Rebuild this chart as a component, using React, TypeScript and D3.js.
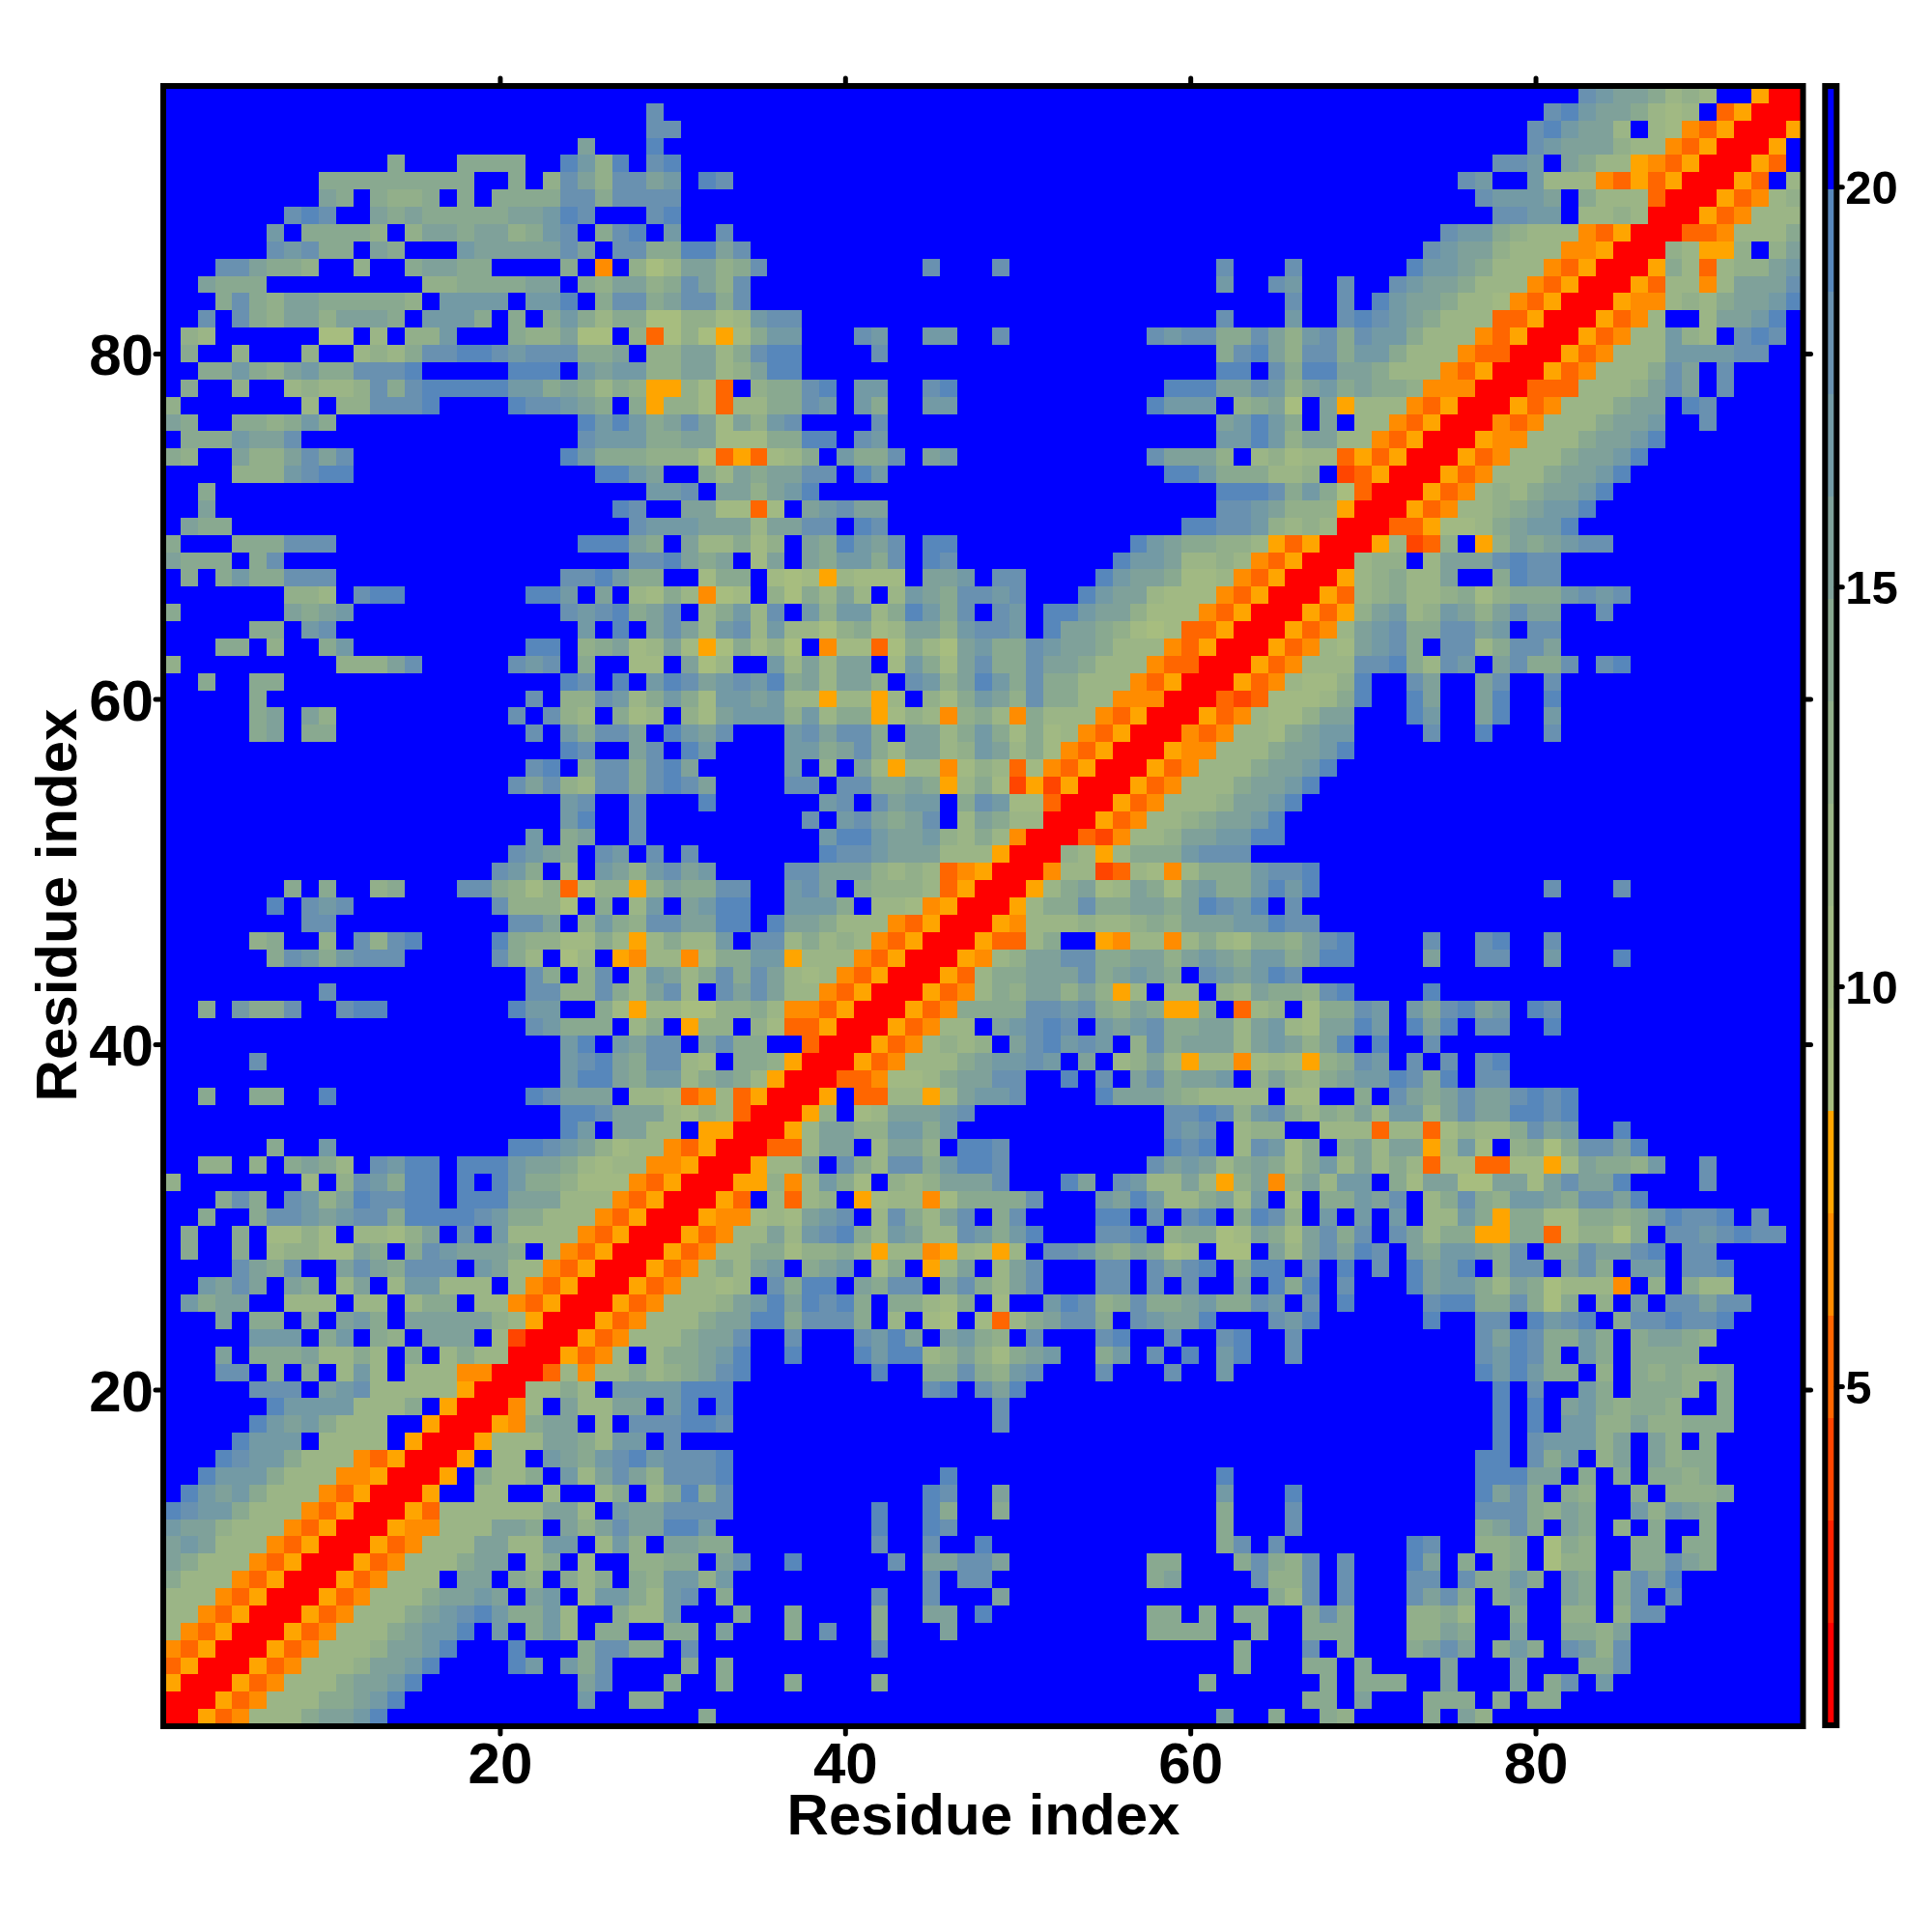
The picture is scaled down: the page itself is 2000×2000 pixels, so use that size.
import * as d3 from "d3"
import { useEffect, useRef } from "react"

// one entry per row of the map, top row first. "col:chars" runs, "." = beyond 20
const rowsTop = [
  "82:hgffecdc..vrr",
  "28:h 80:higffecbc.tvrrr",
  "28:hh 79:higffc.cbutvrrrv",
  "24:f 28:i 79:hgfffdccutvrrrv.",
  "13:e 17:eeee 23:igdi.hi 77:hhg.feccvutvrrrvt.",
  "9:eeeeeeeee..e.dhfdhhfg.ih 75:hg..gcccutvtvrrrvt.c",
  "9:fe.edde.e.eeeehhehhhh 76:hgggf.eccctrrrvtucd",
  "7:hih..fefeeeeeffgih...hi 77:hhgg.ccdcrrrvtuccc",
  "6:g.eeeed.dffeffdegh.ehi.g 32:h 74:hggedcccutvrrrttuccce",
  "6:hghee.fe...gfffffhf.hheeiifh 73:hgffdcccuuvrrrdcvvd.df",
  "3:hhfeed..d..effee....e.u.dacffdeh 44:h 48:h 61:h 65:h 72:iggfecccutvrrrvectcddfg",
  "2:feee 15:ddeeeeff.edffdehfdh 61:g 64:hg 68:h 71:hgffecccutvrrrvtccucfffh",
  "3:ehedffeeeeed.gggg.ggi.ehhefhheh 65:h 68:h 70:igffeccbutvrrrvuucdceffgi",
  "2:h.hedffdfffe.ggge.e.egeceeaaddbcghh 61:h 65:g 68:hihgfecccttvrrrvtuc..cffgi",
  "1:dc 9:aa.c.ddg...eddfaa.dtadavbegg 40:hg 44:gg 48:h 57:hghheehfdghehggecccutvrrrvtuccgdc.hih.",
  "1:e 4:d 8:d 11:cdcehhiihghhheef.ddffcehii 41:h 61:ehifdhheggecccuttrrrvtucccgggghh",
  "2:eegedfgeehhhi.....iii.gfggddffcdfii 61:ii.heiiffecccutvrrrvtucccehf.h",
  "1:e 4:d 7:cdccdhehiiiiiggefecedvvdbt.deehi 40:gg 44:hi 58:iiiffhgdfgefeeduuurrrtttcccdfhf.h",
  "0:d 8:c.ddhhhi....ihhgfe.evddbtcceehg 40:ge 44:gg 57:iggg.defa.fvcccutvrrrvtuccceff.ih",
  "0:fe 4:eedege 24:igigefhfbfdgh 41:h 61:fgige.f.ccutvrrrutuccceffg..h",
  "1:eeegffh 24:hgggeeffbbbeeii 40:hg 61:ggigdffccutvrrrvuuccceffgi",
  "0:ed 4:fddfhfh 23:igeeedddatvtbce.geeh.fg 57:hfffd.cdbcctvtvrrrvtuccceffgi",
  "4:dddghii 25:iigf..ecfeffhh.ig 58:iigeeeccd.stvrrrvtuccceffgi",
  "2:e 28:ggh.ffdfgi 61:iiihegeatrrrvtucdceffgi",
  "2:f 26:ih..ffbbtb.fghff 61:hhgfdddvrrrvtuccdefggi",
  "1:fee 27:hgggfffcffhh.ih 59:iihhgdcdcrrrttvbbcefggi",
  "0:e 4:eeehhh 24:iiife.fccebd.feigfh.ii 56:igfeeddcvtvrrrvcstd.vdfefghh",
  "0:feee.eh 27:hhifef.bf.feggeh.ih 55:iggfccdcutvrrrcdd.cfffhihh",
  "1:e 3:egeehhh 23:hhigee..bee.babvcbbb.ffg.hh 54:igffebbcutvrrrvcdeccf..eihh",
  "7:ddc.hii 21:iig.f.cbecuab.daecfc.cgfehhgh 53:igffcbbbutvrrrvtcdeccdebdeeeghgh",
  "0:e 7:fefg 23:hghiefh.cegch.gdggceigeh.hg 51:iigffdbbbutvrrrvtvdfgcdgfdfhff..h",
  "5:ee.gh 24:g.i.fhfcghcgccadebcffdghhg.iffedbabttvrrrvtucfgheehhfg.hh",
]

const rowsMiddle = [
  "3:ee 6:d 9:eg 21:ii 24:defbcfbvaebda.ubbtaecafgeehgffecccutvrrrvtucbfghe.hhcehhf",
  "0:d 10:dddfh 20:hgh.e..bb.fac..gcfcff.bgebfheehffecccuttrrrvtuccchhiechg.fheeh.hi",
  "2:e 5:ee 23:ih.i.gihfghgiefcffd.hgdfigeheecccutvrrrvtucbbdi..hf..fh..h",
  "5:e 21:h 23:ddhgcegebggfgccvccvc.dbegfdheeccuuurrrtstbbbcei 72:if 76:fi 80:i",
  "5:ef 8:fd 20:h.hdc.ebc.dbfgggdgceevbdcudecuecccutvrrrvtucbbdff 72:ig 76:fi 80:g",
  "5:ef 8:ee 21:h 23:gehhf.igfh...ghfhhe.ffcegebebcutvrrrutuccbefgg 73:h 76:i 80:h",
  "23:ih..fh.ig....ggefhecffcdgfcebutvrrrvuuccceffgi",
  "21:hi.ehhehif.....g.d.fcvccubdctbutvrrrvtuccceffgi",
  "20:hfhdchhehihf....hh.hheefevcebsvsvrrrvtuccceffgi",
  "23:gh 27:h 31:i 38:gh.hfgg.ehgbbtrrrvtucccdffgi",
  "23:gi 27:h 37:h.ghfefh.cfeccrrrvtuccdeffgi",
  "21:g 23:ef 27:h 38:giigffgdcecurrrtsuccdffggii",
  "20:hgfe.hg.h.h 38:ihhgfffcccvrrrdcvceeeghhh",
  "19:hge.c.gfdghfg 36:hhfffdcdctuvrrruccstcbuceeeghhi",
  "7:e 9:e 12:de 17:hhedbdtaddvdfeehh..ghf.edddctvrrrvcefbcfebfgeegigi 80:h 84:h",
  "6:i 8:hgh 19:hddda.e.cg.fgii..ggge.ccbuvrrrvceeheeffefihgi.h",
  "8:hh 20:hhf.dgedhhffii.iffecccutvrrrvucccdccdedfffggihh",
  "5:de 9:d 11:hdhi 19:ieddbbecvceccg.hhcecdcutvrrrvttce..vuccucecbeedfhi 73:h 76:hi 80:h",
  "6:ehgeghhh 19:hec.ac.vuccubeeggvcccutvrrrvucdffhheeffdfgfeggefii 73:f 76:hh 80:g 84:i",
  "21:he.dh.cgfcehehfcbcutvrrrvtceefffhefgfe.hgfgih",
  "9:h 21:hhddhecfhc.hfhfccutvrrrvtucedffdfdvc.cc.dcfeedhi 73:i",
  "2:e 4:geeh 10:hii 20:igg..ebvccaaddecuutvrrrvtueeeehhghedfevve.tcd.beehg.gehifg.ih",
  "21:hgeee.ce.vdd.dbttvrrrvtucc.fghih.gfgheeffcfgcbffig.ifi.hh..i",
  "23:gi.gfhh.fhee..trrrvtucdcd.fhighg.dhefffcfgfdfi.i 73:h",
  "5:h 23:ghifehhcb.eedvrrrvtucccefgghg.f.cdfcvccubcbvdehg.h.h.hi",
  "23:giifeggcefecvrrrttubbceffhh..i.h.fheffg.dfdcefggihei.hh",
  "2:e 5:ee 9:i 21:ihfff.ccbtuctvrrrv.ttccvcfggh....ifffedcccc.bb..e.hfefhffhihi",
  "23:iihfffcbdctrrrvd.bcfffgh 58:hhihdghecedfcggcfhffiihi",
  "23:ig.ffcc.vvrrrvcffddggeg 58:hgh.cdd..ccctcctbdccehfg 84:i",
  "6:e 9:g 20:iihgfdbccutvrrrttcff.cffd.iih 58:ihi.chgbe.efcffvcgb.deaehhfi",
  "2:dd 5:d 7:efec 12:hgii 17:iiigffecbccuuvrrrvccf.hechhegiih 57:hfgfcefebegcfcectbbttbbvbfeedg 89:h",
  "0:d 8:c.dhgeii 17:i.igeedbbbutvrrrvvducgeb.dcdfffh...if.hgccfcvdfudfcgg.ebffaaffbfhffi 89:h",
]

const rowsBottom = [
  "3:ehe.hgdfihhii.iiifffcccutvrrrvt.ctcd.vbccubeeeeh...gfigccefbg.b.eegfh.cehedggfehhfi",
  "2:e..ehhgfghheiiiihgeecccutvrrrvuubcbfgh.checfh.eh....ii.h.hi.eihd.g.g.g.ccgeveebbeedegihhi.h",
  "1:e..e.bbdb.ccbdf.h.gccccutvrrrvtuccfcghiecgfcchgegi...hhi.deeabfebfheh.hfceevveetbddae.hhghihh",
  "1:e..e.cddbbfe.ehgfffe.cutvrrrvtucceebddecvccuvcbvc.hhgedfeab.aa.fcfhfih.feggfeh.eehffhi.hh",
  "4:hfeh..fhfehhh.gfccutvrrrvtucecfg.efg.be.vcf.cfh...hh.hfhi.eii.h.i.h.ifgi.ehh.fhe.gg.hhi",
  "2:gfhf.fe.cf.cggccc.cutvrrrvtuccbc.heii.fehh.fhecfh...hh.h.h..f.iei.h...ifggecfeacccu.d.ecc",
  "1:geff..ccc.cc.cee.ccutvrrrvtucccdfgifihie.eecbe.b..gihdeheefgeehg.h.i....hiieeheae.d.g.hhfhh",
  "3:f.ee.e.fge.fffffdcvrrrvtuccceffiiehhhe.c.ba.btcefhhe.hgffi...hgi......i..hh.ighi.ehhihhi",
  "5:ggg.eg.ed.fff.csrrrvtuccceffh..h...hgif.fged.h...hi..h..hi..h 76:hfiheege.effed",
  "3:f.eeefccec.e.ceccrrrvtuc.ceefgi..i...igiicdfdbefg..eg.h.i.gi..h 76:hgihe.ge.eeee",
  "3:hh.e.e.cgc.cccuurrrtcuccecdefhi 41:i 44:eehedgh 54:h 58:h 61:g 76:igigee.d.ededde",
  "5:hhh.fghcccccvrrrccec.ggggiii 44:hi 47:hfi 77:i.h..ge.eeed.e",
  "6:iggggccce.vrrruc.fccff.gi.i 48:h 77:i.i.fgedeed..e",
  "5:igfgeccc..vrrrvueff.c.hhhiih 48:h 77:i.i.ggddfddeee",
  "4:iggg.cccc.vrrrvcccffecgg.h 77:i.hgggdf.fd.e",
  "3:ihggecccutvrrrv.cc.gfeghighhhi 76:ii.heg.df.fdee",
  "2:igggecccuuvrrrv.ecce.gcfhfdhhhi 45:i 61:i 76:iiiff.e.e.eede",
  "1:igfgecccutvrrrv..cc..c..ce.ceieh 44:ih 48:f 61:g 65:i 76:ifhe.ed..e.ddde",
  "0:ihggecccutvrrrvtccccccffc.gffhhhh 41:i 44:ie 48:e 61:e 65:h 76:hhhedfe..gdgfe",
  "0:gffdcccutvrrrvuucccffe.fdfhffiig 41:i 44:ih 61:e 65:h 76:efhe.fe.d.e..e",
  "0:fgfcccutvrrrvtucccffccgg.cgd.ffee 41:h 44:h 47:i 61:eh 64:h 72:ih 76:dde.aed..ee.ee",
  "0:fecccutvrrrvtuccceff.ce.c..ddee.fh 36:i 42:h 44:ffhhf 57:ee 62:ehedh.h 72:if.e.de.add..eehfe",
  "0:ecccutvrrrvtuccc.ff.ed.ece.edggdg 44:h 46:hh 57:ef 63:hddh.h 72:hh.heege.fe.ehfi",
  "0:cccutvrrrvtuccceffgf.fg.cggecgh.e 41:h 44:h 48:f 64:ech.h 72:hfhe.ef..fe.eh.h",
  "0:ccutvrrrvtucccefghigeegc..eccg 33:e 36:e 41:e 44:ff 47:i 57:ee 60:e 62:ee 66:ehe 72:ddec..e..dd.dhh",
  "0:cutvrrrvtucccefggi.g.egc.ee..ee.f 36:e 38:h 41:e 45:f 57:eeee 63:e 66:eee 72:ddfe..f..eedf",
  "0:utvrrrvtucccdffgi...i...ehhee.h 41:h 62:e 66:h.e 72:efhf.ege.hgdh",
  "0:tvrrrvtucccdffgi....ig.geh....e 32:e 62:e 66:ee.e 74:f 78:f 82:eeh",
  "0:vrrrvtuccceffgi 24:fh 29:e 32:e 36:e 41:e 60:e 67:e.eee 74:f 78:f 80:eh 83:g",
  "0:rrrvtuccceefgi 24:g 27:ee 66:ee.f 73:eee.e.ee",
  "0:rrvtuccceffgi 31:e 61:f 64:e 67:ed 73:e.fd",
]

const binKeys = "rqstuvabcdefghi."
const binValues = [1.4, 2.7, 4.0, 5.2, 6.5, 7.8, 9.1, 10.4, 11.7, 12.9, 14.2, 15.5, 16.8, 18.1, 19.3, 20.6]
const binColors = [
  "#ff0000", "#ff2200", "#ff4500", "#ff6600", "#ff8c00", "#ffa500",
  "#a7bd7f", "#a1b983", "#9bb586", "#92af8a", "#89a990", "#7fa19a", "#739aa5", "#6991b0", "#5787bb",
  "#0000ff",
]
const axisTicks = [20, 40, 60, 80]
const colorTicks = [5, 10, 15, 20]
const residueCount = 95
const valueRange: [number, number] = [0.76, 21.26]

type Cell = { x: number; y: number; value: number }

function buildCells(): Cell[] {
  const rows = [...rowsTop, ...rowsMiddle, ...rowsBottom]
  const cells: Cell[] = []
  rows.forEach((row, t) => {
    const values = new Array(residueCount).fill(binValues[15])
    row.split(" ").forEach((run) => {
      const [start, chars] = run.split(":")
      chars.split("").forEach((c, i) => {
        const col = +start + i
        if (col < residueCount) values[col] = binValues[binKeys.indexOf(c)]
      })
    })
    values.forEach((value, col) => cells.push({ x: col + 1, y: residueCount - t, value }))
  })
  return cells
}

export default function App() {
  const svgRef = useRef<SVGSVGElement>(null)

  useEffect(() => {
    if (!svgRef.current) return
    const svg = d3.select(svgRef.current)
    svg.selectAll("*").remove()

    const left = 169
    const right = 1866.5
    const top = 89
    const bottom = 1787

    const xScale = d3.scaleLinear().domain([0.5, residueCount + 0.5]).range([left, right])
    const yScale = d3.scaleLinear().domain([0.5, residueCount + 0.5]).range([bottom, top])
    const color = d3.scaleQuantize<string>().domain(valueRange).range(binColors)

    svg
      .append("g")
      .attr("shape-rendering", "crispEdges")
      .selectAll("rect")
      .data(buildCells())
      .enter()
      .append("rect")
      .attr("x", (d) => Math.round(xScale(d.x - 0.5)))
      .attr("y", (d) => Math.round(yScale(d.y + 0.5)))
      .attr("width", (d) => Math.round(xScale(d.x + 0.5)) - Math.round(xScale(d.x - 0.5)))
      .attr("height", (d) => Math.round(yScale(d.y - 0.5)) - Math.round(yScale(d.y + 0.5)))
      .attr("fill", (d) => color(d.value))

    const styleAxis = (g: any, size: number) => {
      g.select(".domain").remove()
      g.selectAll("line").attr("stroke", "#000").attr("stroke-width", 5).attr("stroke-linecap", "round")
      g.selectAll("text")
        .attr("fill", "#000")
        .style("font-family", '"Liberation Sans", Arial, sans-serif')
        .style("font-weight", "bold")
        .style("font-size", `${size}px`)
    }

    svg
      .append("g")
      .attr("transform", `translate(0,${bottom})`)
      .call(d3.axisBottom(xScale).tickValues(axisTicks).tickSize(8).tickSizeOuter(0))
      .call((g) => styleAxis(g, 60))
      .call((g) => g.selectAll("text").attr("y", 59).attr("dy", 0))

    svg
      .append("g")
      .attr("transform", `translate(${left},0)`)
      .call(d3.axisLeft(yScale).tickValues(axisTicks).tickSize(8).tickSizeOuter(0))
      .call((g) => styleAxis(g, 60))
      .call((g) => g.selectAll("text").attr("x", -10).attr("dy", "0.36em"))

    svg
      .append("g")
      .attr("transform", `translate(0,${top})`)
      .call(d3.axisTop(xScale).tickValues(axisTicks).tickSize(8).tickSizeOuter(0).tickFormat(() => ""))
      .call((g) => styleAxis(g, 60))

    svg
      .append("g")
      .attr("transform", `translate(${right},0)`)
      .call(d3.axisRight(yScale).tickValues(axisTicks).tickSize(8).tickSizeOuter(0).tickFormat(() => ""))
      .call((g) => styleAxis(g, 60))

    svg
      .append("rect")
      .attr("x", left)
      .attr("y", top)
      .attr("width", right - left)
      .attr("height", bottom - top)
      .attr("fill", "none")
      .attr("stroke", "#000")
      .attr("stroke-width", 6)

    // colour bar
    const barLeft = 1889.3
    const barRight = 1901.3
    const barScale = d3.scaleLinear().domain(valueRange).range([1786, 89])

    svg
      .append("g")
      .attr("shape-rendering", "crispEdges")
      .selectAll("rect")
      .data(binColors)
      .enter()
      .append("rect")
      .attr("x", barLeft)
      .attr("width", barRight - barLeft)
      .attr("y", (d) => barScale(color.invertExtent(d)[1]))
      .attr("height", (d) => barScale(color.invertExtent(d)[0]) - barScale(color.invertExtent(d)[1]) + 0.5)
      .attr("fill", (d) => d)

    svg
      .append("g")
      .attr("transform", `translate(${barRight},0)`)
      .call(d3.axisRight(barScale).tickValues(colorTicks).tickSize(6).tickSizeOuter(0).tickFormat(d3.format("d")))
      .call((g) => styleAxis(g, 49))
      .call((g) => g.selectAll("text").attr("x", 9).attr("dy", "0.36em"))

    svg
      .append("rect")
      .attr("x", barLeft)
      .attr("y", 89)
      .attr("width", barRight - barLeft)
      .attr("height", 1697)
      .attr("fill", "none")
      .attr("stroke", "#000")
      .attr("stroke-width", 6)

    const titleStyle = (t: any) =>
      t
        .attr("text-anchor", "middle")
        .attr("fill", "#000")
        .style("font-family", '"Liberation Sans", Arial, sans-serif')
        .style("font-weight", "bold")
        .style("font-size", "60px")
        .text("Residue index")

    svg.append("text").attr("x", 1018).attr("y", 1899).call(titleStyle)
    svg.append("text").attr("transform", "translate(79,937) rotate(-90)").call(titleStyle)
  }, [])

  return (
    <div style={{ position: "absolute", left: 0, top: 0, background: "#fff" }}>
      <svg ref={svgRef} width={2000} height={2000} style={{ display: "block" }}></svg>
    </div>
  )
}
